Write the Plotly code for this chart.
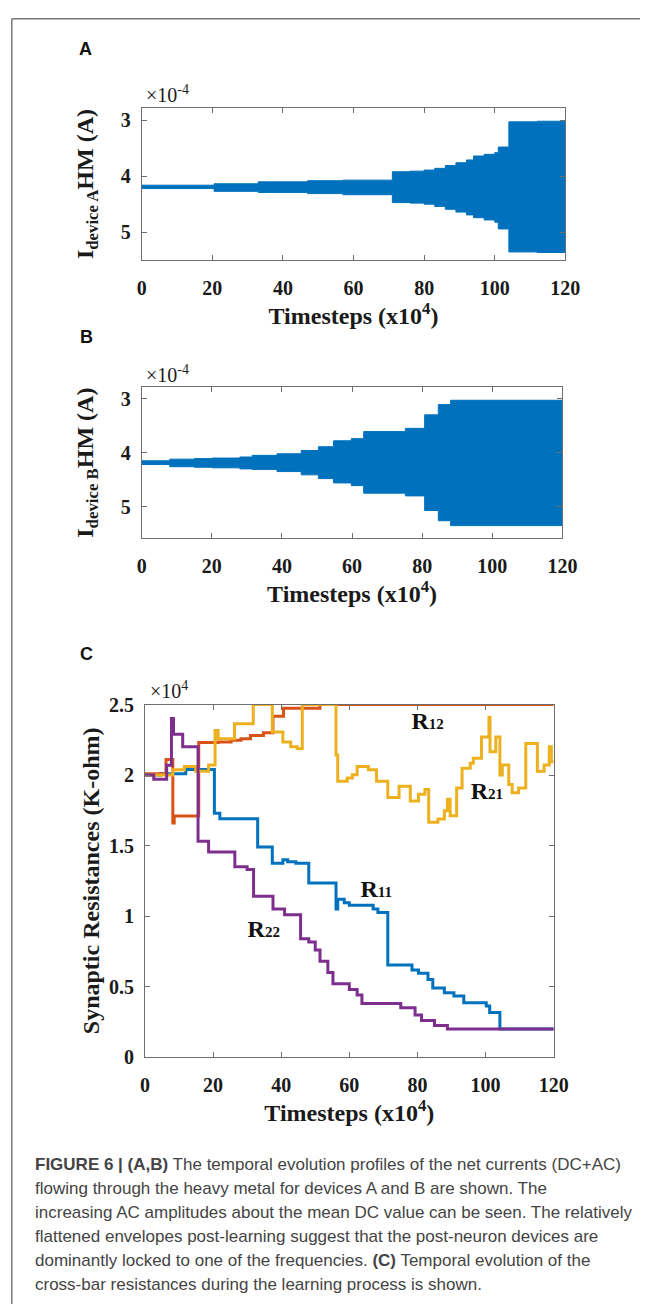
import plotly.graph_objects as go

W, H = 655, 1315

# ---------------- data ----------------
# Panel A: envelope of I_device A (units of 1e-4 A)
tA = [0, 20.5, 33, 47, 57, 71, 76, 80, 83, 86, 89, 92, 94, 97, 100, 101, 104, 112, 120]
A_top = [4.16, 4.135, 4.10, 4.08, 4.07, 3.92, 3.91, 3.89, 3.86, 3.81, 3.76, 3.71, 3.64, 3.61, 3.58, 3.48, 3.03, 3.02, 3.01]
A_bot = [4.22, 4.27, 4.29, 4.31, 4.33, 4.47, 4.48, 4.50, 4.54, 4.59, 4.64, 4.69, 4.74, 4.78, 4.82, 4.94, 5.35, 5.36, 5.36]

# Panel B: envelope of I_device B (units of 1e-4 A)
tB = [0, 8, 15, 20, 28, 31.5, 38.6, 45.5, 50.4, 54.7, 59.8, 63.3, 75.2, 80.7, 84.6, 88.1, 120]
B_top = [4.15, 4.12, 4.11, 4.10, 4.08, 4.05, 4.02, 3.96, 3.89, 3.78, 3.74, 3.61, 3.55, 3.30, 3.11, 3.03, 3.03]
B_bot = [4.22, 4.26, 4.27, 4.28, 4.30, 4.31, 4.35, 4.41, 4.48, 4.56, 4.61, 4.75, 4.80, 5.07, 5.26, 5.35, 5.35]

# Panel C: synaptic resistances (units of 1e4 K-ohm)
t11 = [0, 4.5, 12, 20.4, 22, 33.1, 37.4, 40.5, 41.9, 44.3, 48.1, 56.1, 56.6, 58.5, 60, 67, 68.4, 71.3,
       78.4, 80.3, 83.1, 84.5, 87.9, 90.7, 93.6, 100.2, 101.2, 104.2, 120]
R11 = [2.0, 2.01, 2.04, 1.73, 1.69, 1.49, 1.374, 1.40, 1.386, 1.374, 1.235, 1.05, 1.12, 1.095, 1.077, 1.05,
       1.026, 0.653, 0.618, 0.595, 0.55, 0.49, 0.456, 0.433, 0.386, 0.363, 0.316, 0.2, 0.2]

t12 = [0, 6.2, 8.2, 8.6, 15.8, 21.5, 25.3, 28.2, 31, 34.8, 37.6, 40.7, 51.4, 120]
R12 = [2.01, 2.11, 1.66, 1.71, 2.23, 2.235, 2.246, 2.258, 2.28, 2.30, 2.416, 2.474, 2.5, 2.5]

t21 = [0, 8.2, 11.6, 14.9, 18.7, 20.6, 21.5, 26.3, 31.8, 37.4, 40.5, 42.8, 44.7, 46.2, 56.1, 56.6, 59.4,
       60.9, 62.3, 65.6, 68, 71.3, 74.6, 77.9, 80.3, 82.2, 83.3, 86, 87.9, 88.8, 89.6, 91.5, 93.1, 95.5,
       96.4, 98.8, 101, 101.3, 103, 104.2, 104.9, 106.8, 107.8, 109.7, 111.8, 115.2, 117.2, 118.7, 119.3, 120]
R21 = [2.0, 2.037, 2.06, 2.026, 2.072, 2.316, 2.258, 2.363, 2.5, 2.305, 2.235, 2.2, 2.188, 2.5, 2.142, 1.956,
       1.979, 2.002, 2.06, 2.037, 1.956, 1.84, 1.921, 1.816, 1.863, 1.898, 1.665, 1.688, 1.747, 1.828, 1.712,
       1.909, 2.049, 2.084, 2.119, 2.27, 2.41, 2.165, 2.27, 2.0, 2.072, 1.933, 1.874, 1.909, 2.223, 2.026,
       2.072, 2.2, 2.095, 2.095]

t22 = [0, 2.6, 6.4, 7.8, 8.4, 11.1, 15.6, 18.7, 26.4, 30, 31.9, 37.6, 41, 45.7, 48.1, 50, 51.4, 53.7, 55.2,
       60, 62.3, 63.7, 75.1, 79.3, 81.2, 85, 88.8, 120]
R22 = [2.0, 1.97, 2.07, 2.40, 2.29, 2.20, 1.53, 1.455, 1.35, 1.33, 1.14, 1.05, 1.01, 0.84, 0.816, 0.76, 0.68,
       0.60, 0.52, 0.48, 0.44, 0.38, 0.35, 0.30, 0.26, 0.225, 0.2, 0.2]

x_ticks = [0, 20, 40, 60, 80, 100, 120]
ab_ticks = [3, 4, 5]
c_ticks = [0, 0.5, 1, 1.5, 2, 2.5]
c_ticktext = ["0", "0.5", "1", "1.5", "2", "2.5"]

# series labels of panel C (name, position in data units)
label_names = ["R<span style='font-size:15px'>12</span>", "R<span style='font-size:15px'>21</span>",
               "R<span style='font-size:15px'>11</span>", "R<span style='font-size:15px'>22</span>"]
label_x = [83.0, 100.4, 67.9, 34.9]
label_y = [2.37, 1.874, 1.176, 0.897]

caption_lines = [
    "<b>FIGURE 6 | (A,B)</b> The temporal evolution profiles of the net currents (DC+AC)",
    "flowing through the heavy metal for devices A and B are shown. The",
    "increasing AC amplitudes about the mean DC value can be seen. The relatively",
    "flattened envelopes post-learning suggest that the post-neuron devices are",
    "dominantly locked to one of the frequencies. <b>(C)</b> Temporal evolution of the",
    "cross-bar resistances during the learning process is shown.",
]

# ---------------- styling ----------------
BLUE = "#0072BD"
ORANGE = "#D95319"
YELLOW = "#EDB120"
PURPLE = "#7E2F8E"
SERIF = "Liberation Serif"
SANS = "Liberation Sans"
FRAME = "#6e6e6e"


def px_x(p):
    return p / W


def px_y(p):
    return 1 - p / H


fig = go.Figure()

# Panel A band
fig.add_trace(go.Scatter(x=tA, y=A_bot, mode="lines", line=dict(color=BLUE, width=1, shape="hv"),
                         xaxis="x", yaxis="y", showlegend=False))
fig.add_trace(go.Scatter(x=tA, y=A_top, mode="lines", line=dict(color=BLUE, width=1, shape="hv"),
                         fill="tonexty", fillcolor=BLUE, xaxis="x", yaxis="y", showlegend=False))
# Panel B band
fig.add_trace(go.Scatter(x=tB, y=B_bot, mode="lines", line=dict(color=BLUE, width=1, shape="hv"),
                         xaxis="x2", yaxis="y2", showlegend=False))
fig.add_trace(go.Scatter(x=tB, y=B_top, mode="lines", line=dict(color=BLUE, width=1, shape="hv"),
                         fill="tonexty", fillcolor=BLUE, xaxis="x2", yaxis="y2", showlegend=False))
# Panel C lines
for t, r, c in [(t11, R11, BLUE), (t12, R12, ORANGE), (t21, R21, YELLOW), (t22, R22, PURPLE)]:
    fig.add_trace(go.Scatter(x=t, y=r, mode="lines", line=dict(color=c, width=3, shape="hv"),
                             xaxis="x3", yaxis="y3", showlegend=False))
# Panel C series labels
fig.add_trace(go.Scatter(x=label_x, y=label_y, text=label_names, mode="text", textposition="middle center",
                         textfont=dict(family=SERIF, size=24, color="#111", weight="bold"),
                         xaxis="x3", yaxis="y3", showlegend=False, hoverinfo="skip"))

tickfont = dict(family=SERIF, size=20, color="#1a1a1a", weight="bold")


def xaxis(domain, anchor):
    return dict(domain=domain, anchor=anchor, range=[0, 120], tickvals=x_ticks,
                ticks="inside", ticklen=5, tickwidth=1, tickcolor=FRAME,
                showline=True, linecolor=FRAME, linewidth=1, mirror="ticks",
                showgrid=False, zeroline=False, tickfont=tickfont, ticklabelstandoff=10,
                title=dict(text="Timesteps (x10<sup>4</sup>)", standoff=6,
                           font=dict(family=SERIF, size=24, color="#1a1a1a", weight="bold")))


def yaxis(domain, anchor, rng, tv, tt, title, standoff):
    return dict(domain=domain, anchor=anchor, range=rng, tickvals=tv, ticktext=tt,
                ticks="inside", ticklen=5, tickwidth=1, tickcolor=FRAME,
                showline=True, linecolor=FRAME, linewidth=1, mirror="ticks",
                showgrid=False, zeroline=False, tickfont=tickfont, ticklabelstandoff=6,
                title=dict(text=title, standoff=standoff,
                           font=dict(family=SERIF, size=24, color="#1a1a1a", weight="bold")))


fig.update_layout(
    width=W, height=H, margin=dict(l=0, r=0, t=0, b=0),
    paper_bgcolor="white", plot_bgcolor="white",
    font=dict(family=SERIF, size=20, color="#1a1a1a"),
    xaxis=xaxis([px_x(141), px_x(578)], "y"),
    yaxis=yaxis([px_y(253), px_y(99)], "x", [5.49, 2.79], ab_ticks, [str(v) for v in ab_ticks],
                "I<sub>device A</sub>HM (A)", 20),
    xaxis2=xaxis([px_x(141), px_x(575)], "y2"),
    yaxis2=yaxis([px_y(536), px_y(382.7)], "x2", [5.58, 2.79], ab_ticks, [str(v) for v in ab_ticks],
                 "I<sub>device B</sub>HM (A)", 20),
    xaxis3=xaxis([px_x(144.3), px_x(566)], "y3"),
    yaxis3=yaxis([px_y(1064), px_y(705.3)], "x3", [0, 2.5], c_ticks, c_ticktext,
                 "Synaptic Resistances (K-ohm)", 2),
)

ann = []
# panel letters
for letter, cx, cy in [("A", 83, 39), ("B", 84, 332), ("C", 84, 654)]:
    ann.append(dict(text=letter, x=px_x(cx), y=px_y(cy), xref="paper", yref="paper",
                    xanchor="center", yanchor="middle", showarrow=False,
                    font=dict(family=SANS, size=18, color="#111", weight="bold")))
# exponent labels
for txt, lx, by in [("×10<sup>-4</sup>", 143, 99), ("×10<sup>-4</sup>", 143, 383), ("×10<sup>4</sup>", 148, 705)]:
    ann.append(dict(text=txt, x=px_x(lx), y=px_y(by), xref="paper", yref="paper",
                    xanchor="left", yanchor="bottom", showarrow=False,
                    font=dict(family=SERIF, size=20, color="#1a1a1a")))
# caption
cap_y = [1173, 1197.5, 1222, 1246, 1270.5, 1295]
for line, cy in zip(caption_lines, cap_y):
    ann.append(dict(text=line, x=px_x(29), y=px_y(cy), xref="paper", yref="paper",
                    xanchor="left", yanchor="middle", showarrow=False,
                    font=dict(family=SANS, size=17, color="#444444")))
fig.update_layout(annotations=ann)

# page border (left and top)
fig.add_shape(type="line", xref="paper", yref="paper", x0=px_x(7), x1=px_x(7), y0=px_y(8), y1=0,
              line=dict(color="#777", width=1.5))
fig.add_shape(type="line", xref="paper", yref="paper", x0=px_x(7), x1=1, y0=px_y(8), y1=px_y(8),
              line=dict(color="#777", width=1.5))

fig.write_html("out.html", config={"displayModeBar": False},
               post_script="document.body.style.margin='0';document.body.style.overflow='hidden';")
